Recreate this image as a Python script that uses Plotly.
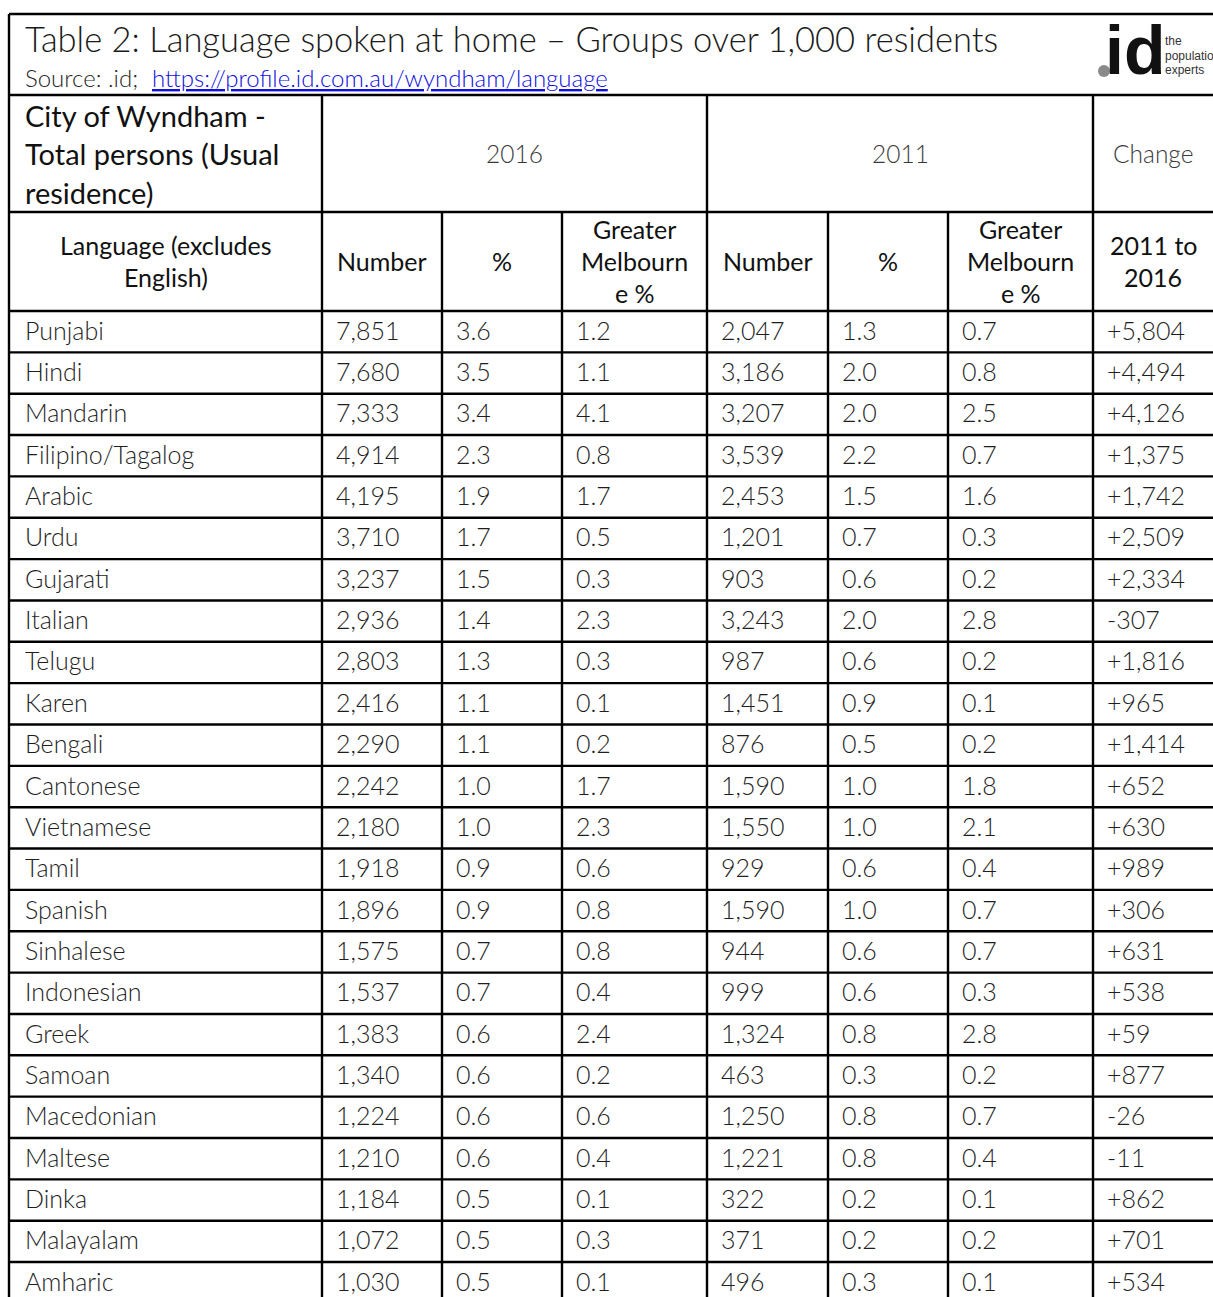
import plotly.graph_objects as go

# ---------------- data ----------------
languages = ["Punjabi", "Hindi", "Mandarin", "Filipino/Tagalog", "Arabic", "Urdu", "Gujarati",
             "Italian", "Telugu", "Karen", "Bengali", "Cantonese", "Vietnamese", "Tamil",
             "Spanish", "Sinhalese", "Indonesian", "Greek", "Samoan", "Macedonian", "Maltese",
             "Dinka", "Malayalam", "Amharic"]
num_2016 = [7851, 7680, 7333, 4914, 4195, 3710, 3237, 2936, 2803, 2416, 2290, 2242, 2180, 1918,
            1896, 1575, 1537, 1383, 1340, 1224, 1210, 1184, 1072, 1030]
pct_2016 = [3.6, 3.5, 3.4, 2.3, 1.9, 1.7, 1.5, 1.4, 1.3, 1.1, 1.1, 1.0, 1.0, 0.9, 0.9, 0.7, 0.7,
            0.6, 0.6, 0.6, 0.6, 0.5, 0.5, 0.5]
gm_2016 = [1.2, 1.1, 4.1, 0.8, 1.7, 0.5, 0.3, 2.3, 0.3, 0.1, 0.2, 1.7, 2.3, 0.6, 0.8, 0.8, 0.4,
           2.4, 0.2, 0.6, 0.4, 0.1, 0.3, 0.1]
num_2011 = [2047, 3186, 3207, 3539, 2453, 1201, 903, 3243, 987, 1451, 876, 1590, 1550, 929,
            1590, 944, 999, 1324, 463, 1250, 1221, 322, 371, 496]
pct_2011 = [1.3, 2.0, 2.0, 2.2, 1.5, 0.7, 0.6, 2.0, 0.6, 0.9, 0.5, 1.0, 1.0, 0.6, 1.0, 0.6, 0.6,
            0.8, 0.3, 0.8, 0.8, 0.2, 0.2, 0.3]
gm_2011 = [0.7, 0.8, 2.5, 0.7, 1.6, 0.3, 0.2, 2.8, 0.2, 0.1, 0.2, 1.8, 2.1, 0.4, 0.7, 0.7, 0.3,
           2.8, 0.2, 0.7, 0.4, 0.1, 0.2, 0.1]
change = [5804, 4494, 4126, 1375, 1742, 2509, 2334, -307, 1816, 965, 1414, 652, 630, 989, 306,
          631, 538, 59, 877, -26, -11, 862, 701, 534]

title_text = "Table 2: Language spoken at home \u2013 Groups over 1,000 residents"
source_label = "Source: .id;"
source_url = "https://profile.id.com.au/wyndham/language"
top_header = ["City of Wyndham -", "Total persons (Usual", "residence)"]
group_labels = ["2016", "2011", "Change"]
sub_headers = [["Language (excludes", "English)"], ["Number"], ["%"],
               ["Greater", "Melbourn", "e %"], ["Number"], ["%"],
               ["Greater", "Melbourn", "e %"], ["2011 to", "2016"]]
logo_words = ["the", "population", "experts"]

# ---------------- layout / style ----------------
W, H = 1213, 1297
COL = [9, 322, 442, 562, 707, 828, 948, 1093, 1218]
TOP, TITLE_B, HEAD1_B, HEAD2_B = 14, 95, 212, 311
ROW_H = 41.35
LW = 2.4
FONT = "Lato"
DATA_COLOR = "#1e1e1e"
DATA_SIZE = 25

fig = go.Figure()
fig.add_trace(go.Scatter(x=[0, W], y=[0, H], mode="markers",
                         marker=dict(opacity=0), hoverinfo="skip", showlegend=False))

shapes = []
annots = []


def hline(y, x0, x1):
    shapes.append(dict(type="line", xref="x", yref="y", x0=x0, x1=x1, y0=y, y1=y,
                       line=dict(color="black", width=LW)))


def vline(x, y0, y1):
    shapes.append(dict(type="line", xref="x", yref="y", x0=x, x1=x, y0=y0, y1=y1,
                       line=dict(color="black", width=LW)))


def text(x, y, s, size, color=DATA_COLOR, anchor="left", weight=300, family=FONT):
    annots.append(dict(x=x, y=y, xref="x", yref="y", text=s, showarrow=False,
                       xanchor=anchor, yanchor="middle",
                       font=dict(family=family, size=size, color=color, weight=weight)))


n_rows = len(languages)
bottom = HEAD2_B + ROW_H * n_rows

# grid lines
hline(TOP, COL[0], COL[-1])
hline(TITLE_B, COL[0], COL[-1])
hline(HEAD1_B, COL[0], COL[-1])
for i in range(n_rows + 1):
    hline(HEAD2_B + ROW_H * i, COL[0], COL[-1])
vline(COL[0], TOP, bottom)
for i in (1, 4, 7):
    vline(COL[i], TITLE_B, bottom)
for i in (2, 3, 5, 6):
    vline(COL[i], HEAD1_B, bottom)

# title area
text(23, 38, title_text, 34.5, color="#1a1a1a", weight=300)
text(23, 77, source_label, 24, color="#262626", weight=300)
text(150, 77, "<span style='text-decoration:underline'>" + source_url + "</span>", 24,
     color="#1010e0", weight=300)

# logo
shapes.append(dict(type="circle", xref="x", yref="y", x0=1098, x1=1110, y0=65, y1=77,
                   fillcolor="#8a8a8a", line=dict(width=0)))
text(1103, 50, "<b>id</b>", 68, color="#111111", weight=900, family="Liberation Sans Narrow, Liberation Sans")
for k, wd in enumerate(logo_words):
    text(1163, 41 + 14.5 * k, wd, 12, color="#333333", weight=400,
         family="Liberation Sans Narrow, Liberation Sans")

# header row 1
for k, line in enumerate(top_header):
    text(23, 115 + 38.5 * k, line, 29, color="#111111", weight=400)
for g, (a, b) in zip(group_labels, [(COL[1], COL[4]), (COL[4], COL[7]), (COL[7], 1213)]):
    text((a + b) / 2, 153, g, 24.5, color="#3a3a3a", anchor="center", weight=300)

# header row 2
for c, lines in enumerate(sub_headers):
    a = COL[c]
    b = COL[c + 1] if c < len(COL) - 2 else 1213
    cx = (a + b) / 2
    n = len(lines)
    cy = (HEAD1_B + HEAD2_B) / 2 - 1
    for k, line in enumerate(lines):
        text(cx, cy + (k - (n - 1) / 2) * 32, line, 25, color="#111111", anchor="center",
             weight=400)

# data rows
cols = [languages,
        [f"{v:,}" for v in num_2016],
        [f"{v:.1f}" for v in pct_2016],
        [f"{v:.1f}" for v in gm_2016],
        [f"{v:,}" for v in num_2011],
        [f"{v:.1f}" for v in pct_2011],
        [f"{v:.1f}" for v in gm_2011],
        [f"{v:+,}" for v in change]]
for c, values in enumerate(cols):
    x = COL[c] + (14 if c == 0 else 12)
    for r, v in enumerate(values):
        y = HEAD2_B + ROW_H * (r + 0.5) - 2
        text(x, y, v, DATA_SIZE, weight=300)

fig.update_layout(
    width=W, height=H,
    margin=dict(l=0, r=0, t=0, b=0),
    paper_bgcolor="white", plot_bgcolor="white",
    xaxis=dict(range=[0, W], visible=False, fixedrange=True),
    yaxis=dict(range=[H, 0], visible=False, fixedrange=True),
    shapes=shapes, annotations=annots,
    showlegend=False,
)

fig.write_html("out.html", config={"displayModeBar": False},
               post_script="document.body.style.margin='0';document.body.style.overflow='hidden';")
